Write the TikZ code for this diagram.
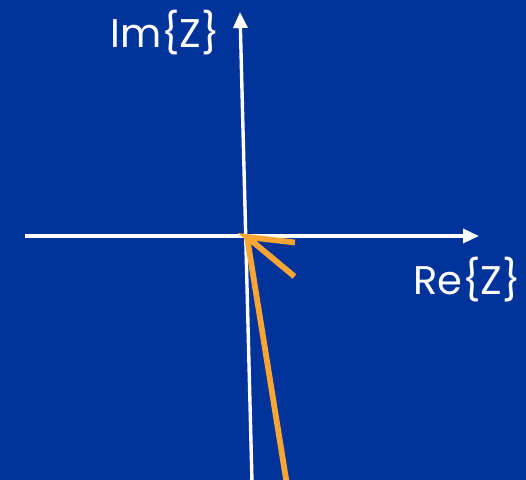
\documentclass[tikz,border=0pt]{standalone}
\usepackage{fontspec}
\setmainfont{Poppins}
\usetikzlibrary{arrows.meta}
\definecolor{slideblue}{RGB}{0,51,153}
\definecolor{phasororange}{RGB}{250,166,52}

\begin{document}
\begin{tikzpicture}[x=0.5pt, y=-0.5pt]
\tikzset{
  axis/.style={white, line width=1.7pt, -{Triangle[length=8pt, width=7pt]}},
  phasor/.style={phasororange, line width=2.9pt, line cap=butt, line join=miter},
  axislabel/.style={white, font=\fontsize{20}{24}\selectfont, inner sep=0pt}
}
% background
\fill[slideblue] (0,0) rectangle (526,480);
\useasboundingbox (0,0) rectangle (526,480);
% axes
\coordinate (xstart) at (25,236);
\coordinate (xend) at (479,236);
\coordinate (ystart) at (252,482);
\coordinate (yend) at (240,12);
\draw[axis] (xstart) -- (xend);
\draw[axis] (ystart) -- (yend);
\node[axislabel] (imlabel) at (165,33) {Im\{Z\}};
\node[axislabel] (relabel) at (467,280) {Re\{Z\}};
% phasor with open head
\coordinate (tail) at (286.5,482);
\coordinate (tip) at (247,237);
\coordinate (barbone) at (295,242.5);
\coordinate (barbtwo) at (294.5,276.5);
\draw[phasor] (tail) -- (tip);
\draw[phasor] (barbone) -- (tip) -- (barbtwo);
\end{tikzpicture}
\end{document}
